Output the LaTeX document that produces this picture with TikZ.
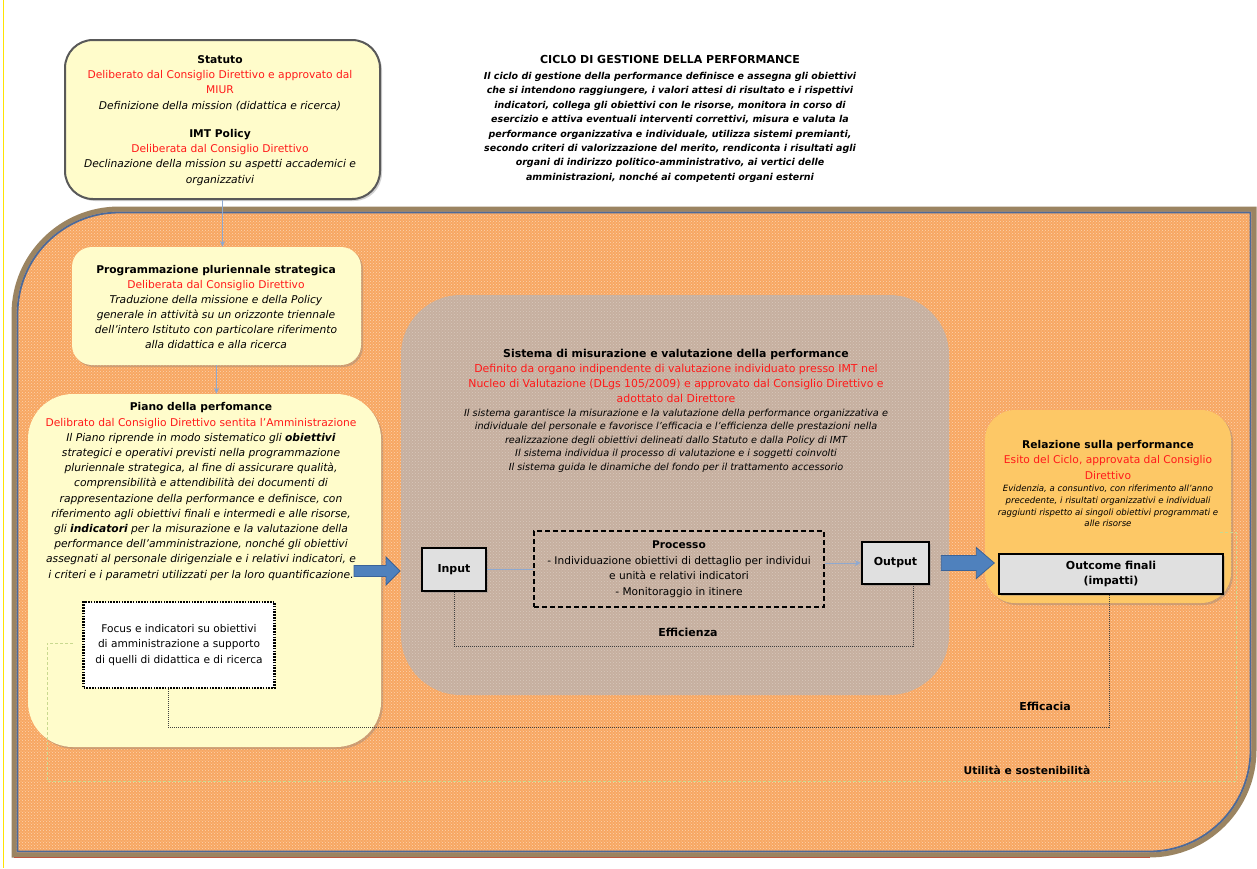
\documentclass[tikz,border=0pt]{standalone}
\usepackage{fontspec}
\setmainfont{DejaVu Sans}
\usepackage{xcolor}
\usepackage{tikz}
\usetikzlibrary{calc}
\usetikzlibrary{patterns,arrows.meta}
\usetikzlibrary{shadows}

\definecolor{gialloBox}{HTML}{FFFCCB}
\definecolor{arancioFondo}{HTML}{F7A762}
\definecolor{arancioPunti}{HTML}{FDD3AE}
\definecolor{grigioSistema}{HTML}{C6AF9F}
\definecolor{puntiSistema}{HTML}{D8C8BC}
\definecolor{arancioRel}{HTML}{FDC866}
\definecolor{rossoTesto}{HTML}{FF1A1A}
\definecolor{bluFreccia}{HTML}{4F81BD}
\definecolor{bluBordo}{HTML}{3A6399}
\definecolor{marroneCornice}{HTML}{9B8461}
\definecolor{bluCornice}{HTML}{4C6A9A}
\definecolor{grigioChiaro}{HTML}{E0E0E0}
\definecolor{grigioScuro}{HTML}{595959}
\definecolor{verdeTratto}{HTML}{C9D98F}
\definecolor{bluLinea}{HTML}{8EA9D0}

\newcommand{\rosso}[1]{{\color{rossoTesto}#1}}

\begin{document}
\begin{tikzpicture}[x=1pt,y=-1pt,
    testo/.style={align=center,inner sep=0pt,anchor=north},
    ombra/.style={drop shadow={opacity=0.35,shadow xshift=2pt,shadow yshift=-2pt}},
    boxgiallo/.style={rounded corners=#1,fill=gialloBox,ombra},
    boxgrigio/.style={fill=grigioChiaro,draw=black,line width=2pt,ombra,inner sep=0pt},
    lineaBlu/.style={draw=bluLinea,line width=0.8pt},
    puntinato/.style={draw=black!75,line width=0.8pt,dash pattern=on 1pt off 1pt},
    verdeTratteggio/.style={draw=verdeTratto,line width=0.8pt,dash pattern=on 3pt off 2pt},
    frecciaBlocco/.style={fill=bluFreccia,draw=bluBordo,line width=0.8pt,line join=miter},
    etichetta/.style={font=\fontsize{11}{12}\bfseries\selectfont}]
    %AREA
    \useasboundingbox (0,0) rectangle (1257,868);
    \fill[white] (0,0) rectangle (1257,868);
    \draw[yellow!85!orange,line width=1pt] (3,0) -- (3,868);
    %CORNICE
    \fill[arancioFondo] (14,855) -- (14,314) arc[start angle=180,end angle=270,radius=105] -- (1254,209) -- (1254,750) arc[start angle=0,end angle=90,radius=105] -- cycle;
    \fill[pattern=crosshatch dots,pattern color=arancioPunti] (14,855) -- (14,314) arc[start angle=180,end angle=270,radius=105] -- (1254,209) -- (1254,750) arc[start angle=0,end angle=90,radius=105] -- cycle;
    \draw[red,line width=1pt] (14,857.8) -- (1150,857.8);
    \draw[marroneCornice,line width=5pt] (14,855) -- (14,314) arc[start angle=180,end angle=270,radius=105] -- (1254,209) -- (1254,750) arc[start angle=0,end angle=90,radius=105] -- cycle;
    \draw[bluCornice,line width=1.8pt] (17.5,851.5) -- (17.5,314) arc[start angle=180,end angle=270,radius=101.5] -- (1250.5,212.5) -- (1250.5,750) arc[start angle=0,end angle=90,radius=101.5] -- cycle;

    %TITOLO
    \node[testo,font=\fontsize{11}{15}\bfseries\selectfont] (titolo) at (670,55) {CICLO DI GESTIONE DELLA PERFORMANCE};
    \node[testo,font=\fontsize{9.5}{14.4}\bfseries\itshape\selectfont] (titoloTesto) at (670,72) {Il ciclo di gestione della performance definisce e assegna gli obiettivi\\
    che si intendono raggiungere, i valori attesi di risultato e i rispettivi\\
    indicatori, collega gli obiettivi con le risorse, monitora in corso di\\
    esercizio e attiva eventuali interventi correttivi, misura e valuta la\\
    performance organizzativa e individuale, utilizza sistemi premianti,\\
    secondo criteri di valorizzazione del merito, rendiconta i risultati agli\\
    organi di indirizzo politico-amministrativo, ai vertici delle\\
    amministrazioni, nonché ai competenti organi esterni};

    %STATUTO
    \node[boxgiallo=28pt,draw=grigioScuro,line width=2pt,minimum width=315pt,minimum height=159pt] (statuto) at (222.5,119.5) {};
    \node[testo,font=\fontsize{10.7}{15.3}\selectfont] (statutoTesto) at (220,55) {\textbf{Statuto}\\
    \rosso{Deliberato dal Consiglio Direttivo e approvato dal}\\
    \rosso{MIUR}\\
    \textit{Definizione della mission (didattica  e ricerca)}\\[13pt]
    \textbf{IMT Policy}\\
    \rosso{Deliberata dal Consiglio Direttivo}\\
    \textit{Declinazione della mission su aspetti accademici e}\\
    \textit{organizzativi}};

    %SISTEMA
    \node[rounded corners=60pt,fill=grigioSistema,minimum width=548pt,minimum height=400pt,inner sep=0pt] (sistema) at (675,495) {};
    \fill[pattern=crosshatch dots,pattern color=puntiSistema,rounded corners=60pt] (sistema.south west) rectangle (sistema.north east);
    \node[testo,font=\fontsize{10.9}{15}\selectfont] (sistemaTesto) at (676,349) {\textbf{Sistema di misurazione e valutazione della performance}\\
    \rosso{Definito da organo indipendente di valutazione individuato presso IMT nel}\\
    \rosso{Nucleo di Valutazione (DLgs 105/2009) e approvato dal Consiglio Direttivo e}\\
    \rosso{adottato dal Direttore}};
    \node[testo,font=\fontsize{9.7}{13.5}\itshape\selectfont] (sistemaNote) at (676,408.5) {Il sistema garantisce la misurazione e la valutazione della performance organizzativa e\\
    individuale del personale e favorisce l'efficacia e l'efficienza delle prestazioni nella\\
    realizzazione degli obiettivi delineati dallo Statuto e dalla Policy di IMT\\
    Il sistema individua il processo di valutazione e i soggetti coinvolti\\
    Il sistema guida le dinamiche del fondo per il trattamento accessorio};

    %PROGRAMMAZIONE
    \node[boxgiallo=20pt,minimum width=289pt,minimum height=118pt] (programmazione) at (216.5,306) {};
    \node[testo,font=\fontsize{10.7}{15}\selectfont] (programmazioneTesto) at (216,265) {\textbf{Programmazione pluriennale strategica}\\
    \rosso{Deliberata dal Consiglio Direttivo}\\
    \textit{Traduzione della missione e della Policy}\\
    \textit{generale in attività su un orizzonte triennale}\\
    \textit{dell'intero Istituto con particolare riferimento}\\
    \textit{alla didattica e alla ricerca}};

    %PIANO
    \node[boxgiallo=45pt,minimum width=353pt,minimum height=353pt] (piano) at (204.5,570.5) {};
    \node[testo,font=\fontsize{10.7}{15.2}\selectfont] (pianoTesto) at (201,402.5) {\textbf{Piano della perfomance}\\
    \rosso{Delibrato dal Consiglio Direttivo sentita l'Amministrazione}\\
    \textit{Il Piano riprende in modo sistematico gli \textbf{obiettivi}}\\
    \textit{strategici e operativi previsti nella programmazione}\\
    \textit{pluriennale strategica, al fine di assicurare qualità,}\\
    \textit{comprensibilità e attendibilità dei documenti di}\\
    \textit{rappresentazione della performance e definisce, con}\\
    \textit{riferimento agli obiettivi finali e intermedi e alle risorse,}\\
    \textit{gli \textbf{indicatori} per la misurazione e la valutazione della}\\
    \textit{performance dell'amministrazione, nonché gli obiettivi}\\
    \textit{assegnati al personale dirigenziale e i relativi indicatori, e}\\
    \textit{i criteri e i parametri utilizzati per la loro quantificazione.}};

    %FOCUS
    \node[fill=white,draw=black,line width=2.2pt,dash pattern=on 1.6pt off 1.2pt,minimum width=191pt,minimum height=86pt,align=center,inner sep=0pt,font=\fontsize{10.6}{15.5}\selectfont] (focus) at (179,645) {Focus e indicatori su obiettivi\\di amministrazione a supporto\\di quelli di didattica e di ricerca};

    %RELAZIONE
    \node[boxgiallo=30pt,fill=arancioRel,minimum width=246pt,minimum height=193pt] (relazione) at (1108,506.5) {};
    \node[testo,font=\fontsize{10.7}{15.5}\selectfont] (relazioneTesto) at (1108,440) {\textbf{Relazione sulla performance}\\
    \rosso{Esito del Ciclo, approvata dal Consiglio}\\
    \rosso{Direttivo}};
    \node[testo,font=\fontsize{8.6}{11.7}\itshape\selectfont] (relazioneNote) at (1108,485) {Evidenzia, a consuntivo, con riferimento all'anno\\
    precedente, i risultati organizzativi e individuali\\
    raggiunti rispetto ai singoli obiettivi programmati e\\
    alle risorse};

    %INPUT PROCESSO OUTPUT
    \node[boxgrigio,minimum width=64pt,minimum height=43pt,font=\fontsize{11}{12}\bfseries\selectfont] (input) at (454,569.5) {Input};
    \node[draw=black,line width=2pt,dash pattern=on 5pt off 3pt,minimum width=290pt,minimum height=76pt,inner sep=0pt,align=center,font=\fontsize{10.6}{15.5}\selectfont] (processo) at (679,569) {\textbf{Processo}\\- Individuazione obiettivi di dettaglio per individui\\e unità e relativi indicatori\\- Monitoraggio in itinere};
    \node[boxgrigio,line width=2.6pt,minimum width=67pt,minimum height=42pt,font=\fontsize{11}{12}\bfseries\selectfont] (output) at (895.5,563) {Output};
    \node[boxgrigio,line width=2.6pt,minimum width=224pt,minimum height=40pt,align=center,font=\fontsize{11}{15}\bfseries\selectfont] (outcome) at (1111,574) {Outcome finali\\(impatti)};

    %FRECCE
    \draw[lineaBlu,-{Stealth[length=6pt,width=5pt]}] (statuto.south) -- (statuto.south |- programmazione.north);
    \draw[lineaBlu,-{Stealth[length=6pt,width=5pt]}] (programmazione.south) -- (programmazione.south |- piano.north);
    \draw[lineaBlu] (input.east) -- (input.east -| processo.west);
    \draw[lineaBlu,-{Stealth[length=6pt,width=6pt]}] (processo.east |- output.west) -- (output.west);
    \coordinate (pianoFreccia) at ($(input.west)+(-67,1.5)$);
    \draw[frecciaBlocco] (pianoFreccia) ++(0,-5.5) -- ++(32,0) -- ++(0,-8.5) -- ++(14,14) -- ++(-14,14) -- ++(0,-8.5) -- ++(-32,0) -- cycle;
    \coordinate (outputFreccia) at ($(output.east)+(11,0)$);
    \draw[frecciaBlocco] (outputFreccia) ++(0,-7.5) -- ++(35,0) -- ++(0,-8) -- ++(18,15.5) -- ++(-18,15.5) -- ++(0,-8) -- ++(-35,0) -- cycle;

    %EFFICIENZA EFFICACIA
    \draw[puntinato] (input.south) -- ++(0,54) -| ($(output.south)+(17.5,0)$);
    \node[etichetta] (efficienza) at (688,632) {Efficienza};
    \draw[puntinato] ($(focus.south)+(-11,0)$) -- ++(0,38) -| ($(outcome.south)+(-2,0)$);
    \node[etichetta] (efficacia) at (1045,706) {Efficacia};

    %UTILITA
    \coordinate (verdeA) at (73,643);
    \coordinate (verdeB) at (1220,532);
    \draw[verdeTratteggio] (verdeA) -| (47,781) -| (1236,532) -- (verdeB);
    \node[etichetta,font=\fontsize{10.7}{12}\bfseries\selectfont] (utilita) at (1027,770) {Utilità e sostenibilità};
\end{tikzpicture}
\end{document}
